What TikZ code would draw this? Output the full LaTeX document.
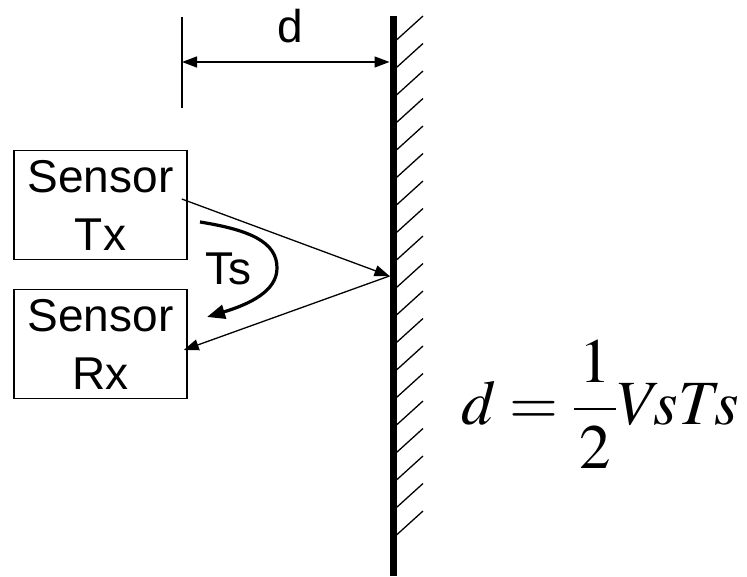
\documentclass[tikz,border=0pt]{standalone}
\usepackage{mathptmx}
\usepackage{fontspec}
\setmainfont{Liberation Sans}
\usetikzlibrary{arrows.meta, positioning, calc}

\begin{document}
\begin{tikzpicture}[x=1pt, y=1pt, >={Triangle[length=15pt,width=11pt]},
                    every node/.style={font=\fontsize{46}{58}\selectfont, inner sep=0pt},
                    sensor/.style={draw, line width=1.5pt, minimum width=173pt,
                                   minimum height=109pt, align=center},
                    ray/.style={->, line width=1.3pt}]
  \useasboundingbox (0,0) rectangle (747,576);
  % wall with hatching
  \draw[line width=7pt] (393,560) -- (393,0);
  \foreach \k in {0,...,18}
    \draw[line width=1.3pt] (396.5,536-27.5*\k) -- ++(26.5,24);
  % distance d
  \coordinate (dleft) at (182,514);
  \coordinate (dright) at (389.5,514);
  \draw[line width=1.3pt] (182,559) -- (182,468);
  \draw[<->, line width=1.3pt] (dleft) -- (dright);
  \node[anchor=base] (dlab) at (290,533) {d};
  % sensors
  \node[sensor] (tx) at (100.5,371) {Sensor\\Tx};
  \node[sensor] (rx) at (100.5,232) {Sensor\\Rx};
  \coordinate (hit) at (389.5,300);
  \draw[ray] ($(tx.east)+(-6,6)$) -- (hit);
  \draw[ray] (hit) -- ($(rx.east)+(-4,-6)$);
  % travel time
  \coordinate (tsa) at (200,354);
  \coordinate (tsb) at (207,259);
  \draw[->, line width=3.2pt, >={Triangle[length=18pt,width=14pt]}]
        (tsa) .. controls (250,346) and (277,334) .. (277,308)
              .. controls (277,285) and (250,272) .. (tsb);
  \node[anchor=base] (ts) at (228,291) {Ts};
  % formula
  \node[anchor=west, font=\fontsize{63}{70}\selectfont] (eq) at (461,172)
        {$\displaystyle d=\frac{\mkern1.5mu 1\mkern1.5mu}{\mkern1.5mu 2\mkern1.5mu}V\!sT\!s$};
\end{tikzpicture}
\end{document}
